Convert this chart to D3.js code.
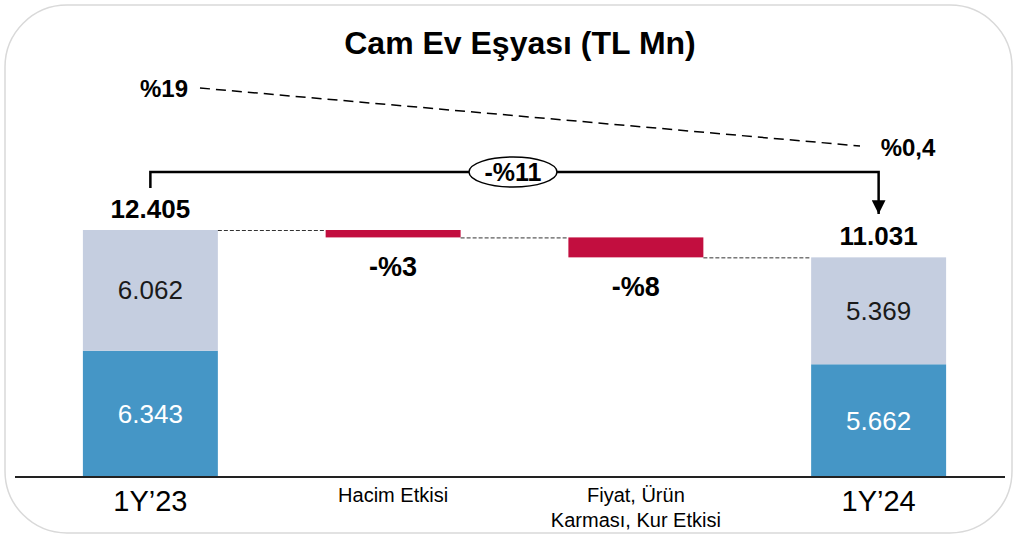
<!DOCTYPE html>
<html>
<head>
<meta charset="utf-8">
<script src="https://cdn.jsdelivr.net/npm/d3@7"></script>
<style>
  body { margin: 0; background: #fff; }
  svg { font-family: "Liberation Sans", Arial, sans-serif; }
</style>
</head>
<body>
<script>
// Chart data
const categories = ["1Y’23", "Hacim Etkisi", "Fiyat, Ürün\nKarması, Kur Etkisi", "1Y’24"];
const lowerValues = [6343, null, null, 5662];
const upperValues = [6062, null, null, 5369];
const totals = [12405, null, null, 11031];
const deltas = [null, -372, -1002, null];
const deltaLabels = [null, "-%3", "-%8", null];
const totalChangeLabel = "-%11";
const marginLabels = ["%19", "%0,4"];

const width = 1017;
const height = 539;

const svg = d3.select("body")
  .append("svg")
  .attr("width", width)
  .attr("height", height);

// Rounded frame
svg.append("rect")
  .attr("x", 5).attr("y", 5)
  .attr("width", 1007).attr("height", 528)
  .attr("rx", 62).attr("ry", 62)
  .attr("fill", "none")
  .attr("stroke", "#d9d9d9")
  .attr("stroke-width", 1.5);

// Title
svg.append("text")
  .attr("x", 520).attr("y", 54)
  .attr("text-anchor", "middle")
  .attr("font-size", 32).attr("font-weight", "bold")
  .text("Cam Ev Eşyası (TL Mn)");

// Scales
const x = d3.scaleBand()
  .domain(categories)
  .range([29, 1000])
  .paddingInner(0.444)
  .paddingOuter(0.222);

const y = d3.scaleLinear()
  .domain([0, 12405])
  .range([477, 230]);

const fmt = v => d3.format(",")(v).replace(",", ".");

// Compute waterfall steps
const steps = [];
let running = totals[0];
categories.forEach((c, i) => {
  if (deltas[i] != null) {
    steps.push({ cat: c, from: running, to: running + deltas[i], label: deltaLabels[i] });
    running += deltas[i];
  }
});

// Stacked total bars
categories.forEach((c, i) => {
  if (totals[i] == null) return;
  const cx = x(c) + x.bandwidth() / 2;
  svg.append("rect")
    .attr("x", x(c)).attr("width", x.bandwidth())
    .attr("y", y(lowerValues[i])).attr("height", y(0) - y(lowerValues[i]))
    .attr("fill", "#4596C6");
  svg.append("rect")
    .attr("x", x(c)).attr("width", x.bandwidth())
    .attr("y", y(lowerValues[i] + upperValues[i]))
    .attr("height", y(lowerValues[i]) - y(lowerValues[i] + upperValues[i]))
    .attr("fill", "#C5CEE0");
  svg.append("text")
    .attr("x", cx)
    .attr("y", (y(0) + y(lowerValues[i])) / 2 + 9)
    .attr("text-anchor", "middle")
    .attr("font-size", 26).attr("fill", "#fff")
    .text(fmt(lowerValues[i]));
  svg.append("text")
    .attr("x", cx)
    .attr("y", (y(lowerValues[i]) + y(totals[i])) / 2 + 9)
    .attr("text-anchor", "middle")
    .attr("font-size", 26).attr("fill", "#1a1a1a")
    .text(fmt(upperValues[i]));
  svg.append("text")
    .attr("x", cx)
    .attr("y", y(totals[i]) - 12)
    .attr("text-anchor", "middle")
    .attr("font-size", 26).attr("font-weight", "bold")
    .text(fmt(totals[i]));
});

// Delta bars
steps.forEach(s => {
  svg.append("rect")
    .attr("x", x(s.cat)).attr("width", x.bandwidth())
    .attr("y", y(s.from)).attr("height", y(s.to) - y(s.from))
    .attr("fill", "#C20E3F");
  svg.append("text")
    .attr("x", x(s.cat) + x.bandwidth() / 2)
    .attr("y", y(s.to) + 39)
    .attr("text-anchor", "middle")
    .attr("font-size", 27).attr("font-weight", "bold")
    .text(s.label);
});

// Dashed connectors
const levels = [totals[0], ...steps.map(s => s.to)];
for (let i = 0; i < categories.length - 1; i++) {
  svg.append("line")
    .attr("x1", x(categories[i]) + x.bandwidth())
    .attr("x2", x(categories[i + 1]))
    .attr("y1", y(levels[i]) + 0.5).attr("y2", y(levels[i]) + 0.5)
    .attr("stroke", "#333").attr("stroke-width", 1)
    .attr("stroke-dasharray", "4,2");
}

// Axis line
svg.append("line")
  .attr("x1", 15).attr("x2", 1005)
  .attr("y1", 477).attr("y2", 477)
  .attr("stroke", "#222").attr("stroke-width", 2);

// Category labels
categories.forEach((c, i) => {
  const lines = c.split("\n");
  const big = totals[i] != null;
  const cx = x(c) + x.bandwidth() / 2;
  const t = svg.append("text")
    .attr("x", cx)
    .attr("y", big ? 511 : 502)
    .attr("text-anchor", "middle")
    .attr("font-size", big ? 29 : 20);
  lines.forEach((l, k) => {
    t.append("tspan")
      .attr("x", cx)
      .attr("dy", k === 0 ? 0 : 25)
      .text(l);
  });
});

// Total change bracket with arrow
const x0 = x(categories[0]) + x.bandwidth() / 2;
const x3 = x(categories[3]) + x.bandwidth() / 2;
svg.append("defs").append("marker")
  .attr("id", "arrow")
  .attr("viewBox", "0 0 10 10")
  .attr("refX", 10).attr("refY", 5)
  .attr("markerWidth", 5.5).attr("markerHeight", 5.5)
  .attr("orient", "auto")
  .append("path")
  .attr("d", "M0,0L10,5L0,10Z")
  .attr("fill", "#000");
svg.append("path")
  .attr("d", `M${x0},188V172H${x3}V214`)
  .attr("fill", "none")
  .attr("stroke", "#000").attr("stroke-width", 2.5)
  .attr("marker-end", "url(#arrow)");
svg.append("ellipse")
  .attr("cx", 513).attr("cy", 172)
  .attr("rx", 44).attr("ry", 15)
  .attr("fill", "#fff")
  .attr("stroke", "#000").attr("stroke-width", 1.5);
svg.append("text")
  .attr("x", 513).attr("y", 181)
  .attr("text-anchor", "middle")
  .attr("font-size", 25).attr("font-weight", "bold")
  .text(totalChangeLabel);

// Margin trend
svg.append("text")
  .attr("x", 164).attr("y", 97)
  .attr("text-anchor", "middle")
  .attr("font-size", 24).attr("font-weight", "bold")
  .text(marginLabels[0]);
svg.append("text")
  .attr("x", 908).attr("y", 156)
  .attr("text-anchor", "middle")
  .attr("font-size", 24).attr("font-weight", "bold")
  .text(marginLabels[1]);
svg.append("line")
  .attr("x1", 200).attr("y1", 88)
  .attr("x2", 860).attr("y2", 146)
  .attr("stroke", "#000").attr("stroke-width", 1.5)
  .attr("stroke-dasharray", "10,6");
</script>
</body>
</html>
